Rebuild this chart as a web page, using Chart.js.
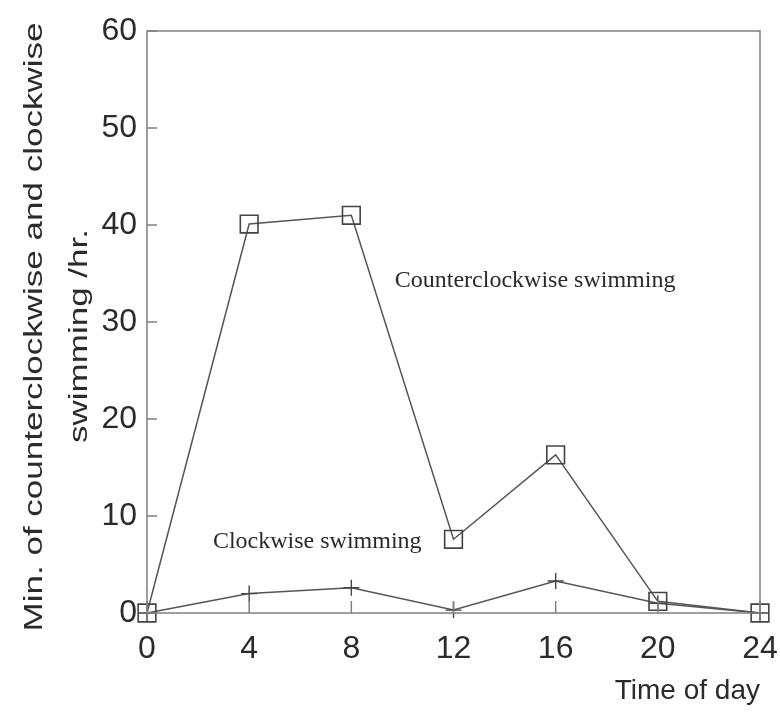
<!DOCTYPE html>
<html>
<head>
<meta charset="utf-8">
<script src="https://cdn.jsdelivr.net/npm/chart.js@4/dist/chart.umd.min.js"></script>
<style>
html,body{margin:0;padding:0;background:#fff;}
#wrap{width:780px;height:715px;position:relative;}
</style>
</head>
<body>
<div id="wrap"><canvas id="c" width="780" height="715"></canvas></div>
<script>
const hours = [0, 4, 8, 12, 16, 20, 24];
const counterclockwise = [0, 40.1, 41.0, 7.6, 16.3, 1.2, 0];
const clockwise = [0, 2.0, 2.6, 0.3, 3.3, 1.0, 0];
const xTicks = [0, 4, 8, 12, 16, 20, 24];
const yTicks = [0, 10, 20, 30, 40, 50, 60];
const yTitleLines = ['Min. of counterclockwise and clockwise', 'swimming /hr.'];
const xTitle = 'Time of day';
const annotations = [
  {text: 'Counterclockwise swimming', x: 9.7, y: 34.3},
  {text: 'Clockwise swimming', x: 2.58, y: 7.4}
];

const ink = '#2b2b2b';
const frameColor = '#808080';
const sans = '"Liberation Sans", Arial, sans-serif';

const framePlugin = {
  id: 'frame',
  afterDatasetsDraw(chart) {
    const {ctx, chartArea: a, scales: {x, y}} = chart;
    ctx.save();
    ctx.strokeStyle = frameColor;
    ctx.lineWidth = 1.5;
    ctx.strokeRect(a.left, a.top, a.right - a.left, a.bottom - a.top);
    ctx.beginPath();
    xTicks.forEach(v => {
      const px = x.getPixelForValue(v);
      ctx.moveTo(px, a.bottom);
      ctx.lineTo(px, a.bottom - 12);
    });
    yTicks.forEach(v => {
      const py = y.getPixelForValue(v);
      ctx.moveTo(a.left, py);
      ctx.lineTo(a.left + 10, py);
    });
    ctx.stroke();
    ctx.fillStyle = '#2a2a2a';
    ctx.font = '24px "Liberation Serif", "DejaVu Serif", serif';
    ctx.textBaseline = 'middle';
    ctx.textAlign = 'left';
    annotations.forEach(an => {
      ctx.fillText(an.text, x.getPixelForValue(an.x), y.getPixelForValue(an.y));
    });
    // y-axis title (two lines, rotated, stretched along baseline as in the reference)
    const mid = (a.top + a.bottom) / 2;
    const lines = [{x: a.left - 105, y: mid + 5}, {x: a.left - 60, y: mid + 14}];
    ctx.font = '35px ' + sans;
    ctx.fillStyle = ink;
    ctx.textAlign = 'center';
    ctx.textBaseline = 'alphabetic';
    yTitleLines.forEach((t, i) => {
      ctx.save();
      ctx.translate(lines[i].x, lines[i].y);
      ctx.rotate(-Math.PI / 2);
      ctx.scale(1, 0.76);
      ctx.fillText(t, 0, 0);
      ctx.restore();
    });
    ctx.restore();
  }
};

new Chart(document.getElementById('c'), {
  type: 'line',
  data: {
    datasets: [
      {
        label: 'Counterclockwise swimming',
        data: hours.map((h, i) => ({x: h, y: counterclockwise[i]})),
        borderColor: '#555',
        borderWidth: 1.5,
        pointStyle: 'rect',
        pointRadius: 12.5,
        pointBorderWidth: 1.6,
        pointBorderColor: '#444',
        pointBackgroundColor: 'rgba(0,0,0,0)',
        tension: 0
      },
      {
        label: 'Clockwise swimming',
        data: hours.map((h, i) => ({x: h, y: clockwise[i]})),
        borderColor: '#555',
        borderWidth: 1.5,
        pointStyle: 'cross',
        pointRadius: 8,
        pointBorderWidth: 1.4,
        pointBorderColor: '#444',
        tension: 0
      }
    ]
  },
  options: {
    responsive: false,
    animation: false,
    clip: false,
    layout: {padding: {top: 31, right: 20, left: 97, bottom: 0}},
    plugins: {legend: {display: false}, tooltip: {enabled: false}},
    scales: {
      x: {
        type: 'linear',
        min: 0, max: 24,
        afterBuildTicks: s => { s.ticks = xTicks.map(v => ({value: v})); },
        afterFit: s => { s.height = 102; s.paddingLeft = 0; s.paddingRight = 0; },
        grid: {display: false, drawTicks: false},
        border: {display: false},
        ticks: {color: ink, font: {family: sans, size: 32}, padding: 17, maxRotation: 0},
        title: {display: true, text: xTitle, align: 'end', color: ink,
          font: {family: sans, size: 28}, padding: {top: 0, bottom: 7}}
      },
      y: {
        type: 'linear',
        min: 0, max: 60,
        afterBuildTicks: s => { s.ticks = yTicks.map(v => ({value: v})); },
        afterFit: s => { s.width = 50; s.paddingTop = 0; s.paddingBottom = 0; },
        grid: {display: false, drawTicks: false},
        border: {display: false},
        ticks: {color: ink, font: {family: sans, size: 32}, padding: 10},
        title: {display: false}
      }
    }
  },
  plugins: [framePlugin]
});
</script>
</body>
</html>
